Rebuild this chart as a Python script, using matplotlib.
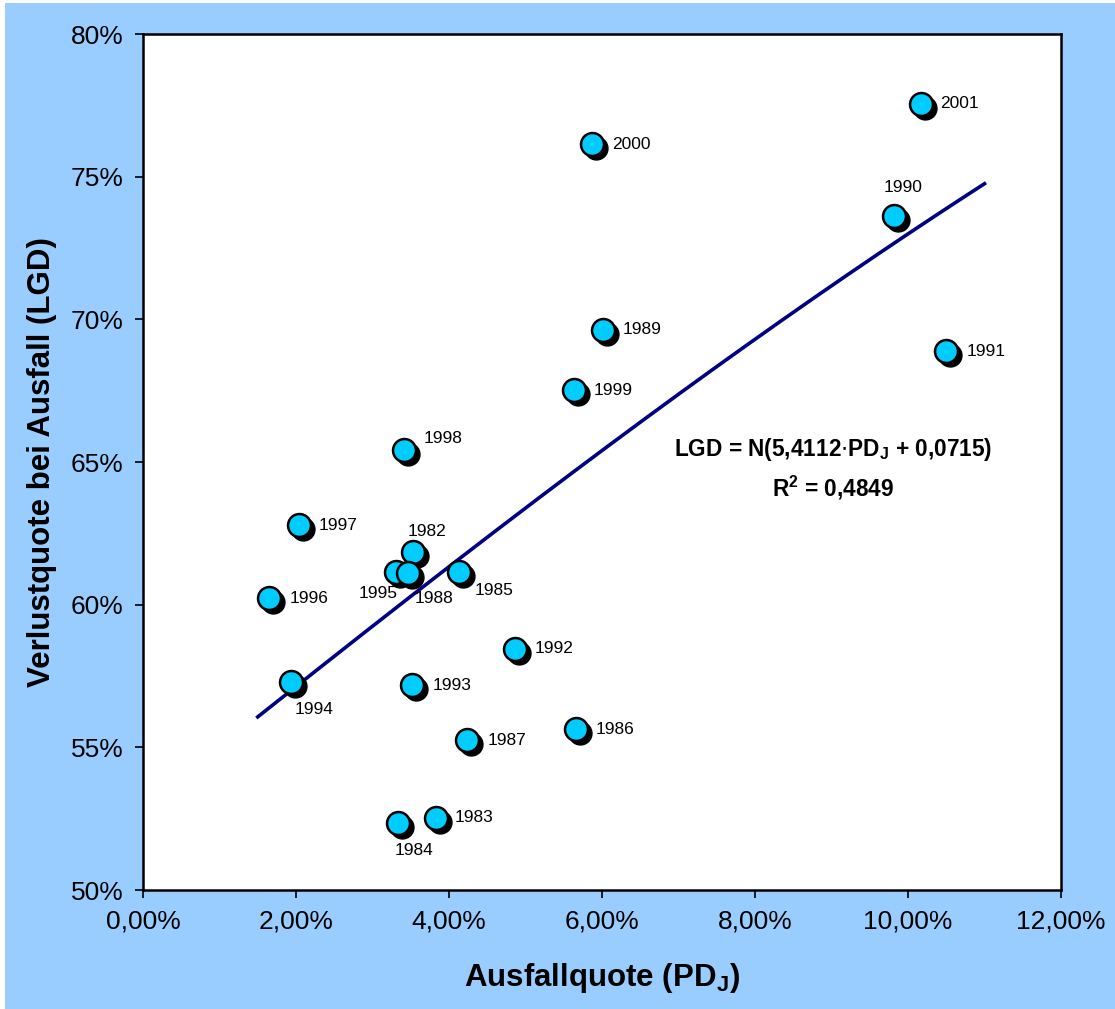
import math
import numpy as np
import matplotlib.pyplot as plt
import matplotlib.transforms as mtransforms
from matplotlib.patches import Rectangle
from matplotlib.ticker import FuncFormatter

plt.rcParams['font.family'] = ['Liberation Sans', 'DejaVu Sans']

# data: default rate (PD, %) and loss given default (LGD, %) per year
years = ['2001', '2000', '1990', '1991', '1989', '1999', '1998', '1997', '1982', '1995',
         '1988', '1985', '1996', '1992', '1994', '1993', '1986', '1987', '1983', '1984']
pd_rate = [10.17, 5.87, 9.82, 10.50, 6.01, 5.63, 3.41, 2.04, 3.53, 3.31,
           3.46, 4.13, 1.65, 4.86, 1.93, 3.52, 5.66, 4.24, 3.83, 3.33]
lgd = [77.55, 76.14, 73.62, 68.89, 69.63, 67.52, 65.42, 62.79, 61.84, 61.14,
       61.10, 61.14, 60.23, 58.44, 57.29, 57.18, 55.64, 55.25, 52.52, 52.35]

# fit: LGD = N(a*PD + b)
coef_a = 5.4112
coef_b = 0.0715
fit_start, fit_end = 1.5, 11.0

# label offsets in pixels (dx, dy, ha)
label_pos = {
    '2001': (19, 0, 'left'), '2000': (20, 0, 'left'), '1990': (9, 29, 'center'),
    '1991': (20, 0, 'left'), '1989': (20, 0, 'left'), '1999': (20, 0, 'left'),
    '1998': (20, 12, 'left'), '1997': (20, 0, 'left'), '1982': (14, 21, 'center'),
    '1995': (-18, -21, 'center'), '1988': (26, -25, 'center'), '1985': (16, -18, 'left'),
    '1996': (20, 0, 'left'), '1992': (20, 1, 'left'), '1994': (23, -28, 'center'),
    '1993': (20, 0, 'left'), '1986': (20, 0, 'left'), '1987': (20, 0, 'left'),
    '1983': (19, 1, 'left'), '1984': (16, -28, 'center'),
}

fig = plt.figure(figsize=(11.15, 10.09), dpi=100, facecolor='white')
fig.patches.append(Rectangle((5 / 1115, 0), 1, 1006 / 1009, transform=fig.transFigure,
                             facecolor='#99CCFF', edgecolor='none', zorder=-10))
ax = fig.add_axes([143 / 1115, 119 / 1009, 918 / 1115, 856 / 1009])
ax.set_facecolor('white')

xs = np.linspace(fit_start, fit_end, 200)
ys = [100 * 0.5 * (1 + math.erf((coef_a * x / 100 + coef_b) / math.sqrt(2))) for x in xs]
ax.plot(xs, ys, color='#000080', lw=2.6, zorder=2)

shadow = mtransforms.offset_copy(ax.transData, fig=fig, x=4, y=-4, units='dots')
ax.plot(pd_rate, lgd, 'o', ms=16.5, color='black', mec='black', transform=shadow, zorder=3)
for x, y in zip(pd_rate, lgd):
    ax.plot([x], [y], 'o', ms=16.5, color='#00CCFF', mec='black', mew=1.8, zorder=4)

for yr, x, y in zip(years, pd_rate, lgd):
    dx, dy, ha = label_pos[yr]
    ax.annotate(yr, (x, y), xytext=(dx * 0.72, dy * 0.72), textcoords='offset points',
                ha=ha, va='center', fontsize=12.5, zorder=5)

ax.text(0.752, 0.492, 'LGD = N(5,4112$\\cdot$PD$_\\mathregular{J}$ + 0,0715)\nR$^\\mathregular{2}$ = 0,4849',
        transform=ax.transAxes, ha='center', va='center', fontsize=16.3, fontweight='bold',
        linespacing=1.45)

ax.set_xlim(0, 12)
ax.set_ylim(50, 80)
ax.set_xticks(np.arange(0, 13, 2))
ax.set_yticks(np.arange(50, 81, 5))
ax.xaxis.set_major_formatter(FuncFormatter(lambda v, p: f'{v:.2f}%'.replace('.', ',')))
ax.yaxis.set_major_formatter(FuncFormatter(lambda v, p: f'{v:.0f}%'))
ax.tick_params(direction='out', length=6, width=1.2, labelsize=19, pad=8)
for s in ax.spines.values():
    s.set_linewidth(1.8)

ax.set_xlabel('Ausfallquote (PD$_\\mathregular{J}$)', fontsize=22.5, fontweight='bold', labelpad=20)
ax.set_ylabel('Verlustquote bei Ausfall (LGD)', fontsize=22.5, fontweight='bold', labelpad=10)

fig.savefig('out.png', dpi=100, facecolor=fig.get_facecolor())
